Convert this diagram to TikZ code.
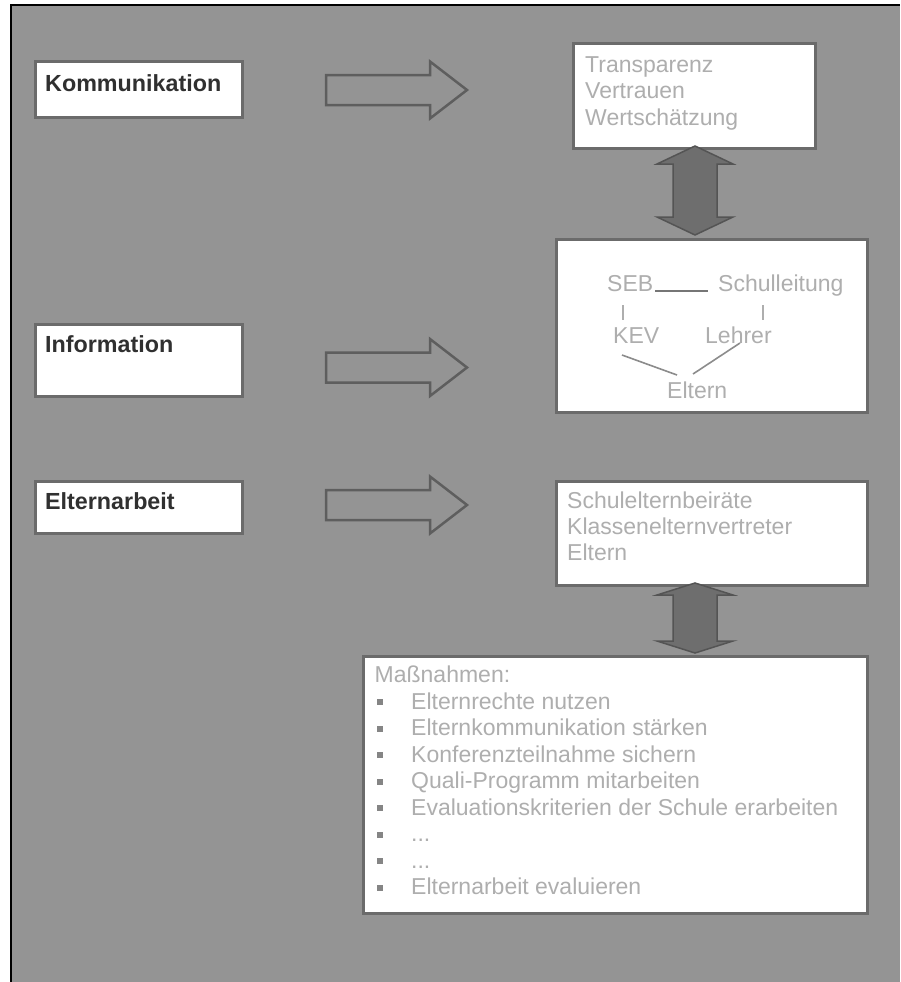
\documentclass[tikz,border=0pt]{standalone}
\usepackage{fontspec}
\setmainfont{Liberation Sans}
\definecolor{bggray}{HTML}{949494}
\definecolor{bordergray}{HTML}{6B6B6B}
\definecolor{arrowline}{HTML}{5E5E5E}
\definecolor{dblfill}{HTML}{6E6E6E}
\definecolor{dblline}{HTML}{545454}
\definecolor{darktext}{HTML}{303030}
\definecolor{lighttext}{HTML}{AEAEAE}
\definecolor{bulletgray}{HTML}{858585}
\definecolor{orggray}{HTML}{8C8C8C}
\definecolor{sebgray}{HTML}{767676}
\newcommand{\threedots}{...}
\tikzset{
  box/.style={draw=bordergray, line width=3pt, fill=white, inner sep=0pt, anchor=north west},
  lbl/.style={anchor=base west, inner sep=0pt, text=darktext, font=\bfseries\fontsize{23.3}{26}\selectfont},
  rtxt/.style={anchor=base west, inner sep=0pt, text=lighttext, font=\fontsize{23}{26}\selectfont},
  bulletbox/.style={fill=bulletgray, draw=none, minimum size=6pt, inner sep=0pt},
  hollowarrow/.pic={
    \draw[arrowline, line width=2.5pt, line join=miter, fill=bggray]
      (0,-15) -- (104,-15) -- (104,-28.5) -- (141,0) -- (104,28.5) -- (104,15) -- (0,15) -- cycle;
  }
}
\newcommand{\dblarr}[4]{% x, top tip y, bottom tip y, head length
  \filldraw[fill=dblfill, draw=dblline, line width=1.5pt, line join=miter]
    (#1,#2) -- (#1+38,#2+#4) -- (#1+22,#2+#4) -- (#1+22,#3-#4) -- (#1+38,#3-#4) -- (#1,#3)
    -- (#1-38,#3-#4) -- (#1-22,#3-#4) -- (#1-22,#2+#4) -- (#1-38,#2+#4) -- cycle;
}
\begin{document}
\begin{tikzpicture}[x=1pt,y=-1pt]
\useasboundingbox (0,0) rectangle (900,982);
\fill[white] (0,0) rectangle (900,982);
\fill[bggray] (11,5) rectangle (900,982);
\draw[black, line width=1.5pt] (11,982) -- (11,5) -- (900,5);

% left boxes
\node[box, minimum width=207pt, minimum height=55pt] (kom) at (33.5,60.5) {};
\node[lbl] (komt) at (45,92) {Kommunikation};
\node[box, minimum width=207pt, minimum height=72pt] (inf) at (33.5,322.5) {};
\node[lbl] (inft) at (45,352) {Information};
\node[box, minimum width=207pt, minimum height=52pt] (elt) at (33.5,479.5) {};
\node[lbl] (eltt) at (45,509) {Elternarbeit};

% hollow arrows
\pic at (326,90) {hollowarrow};
\pic at (326,367.5) {hollowarrow};
\pic at (326,505) {hollowarrow};

% right boxes
\node[box, minimum width=242pt, minimum height=104pt] (trans) at (571.5,42.5) {};
\node[rtxt] (t1) at (585,73) {Transparenz};
\node[rtxt] (t2) at (585,99) {Vertrauen};
\node[rtxt] (t3) at (585,125) {Wertschätzung};

\node[box, minimum width=311pt, minimum height=173pt] (org) at (554.5,237.5) {};
\node[rtxt] (seb) at (607,291) {SEB};
\node[rtxt] (sl) at (718,291) {Schulleitung};
\node[rtxt] (kev) at (613,343) {KEV};
\node[rtxt] (le) at (705,343) {Lehrer};
\node[rtxt] (el) at (667,398) {Eltern};
\draw[sebgray, line width=2.5pt] ([xshift=2pt]seb.base east) -- ([xshift=-10pt]sl.base west);
\draw[lighttext, line width=1.8pt] (623,305) -- (623,320);
\draw[lighttext, line width=1.8pt] (763,305) -- (763,320);
\coordinate (kevend) at (622,355);
\coordinate (elA) at (677,375);
\coordinate (elB) at (693,374);
\coordinate (leend) at (740,343);
\draw[orggray, line width=1.6pt] (kevend) -- (elA);
\draw[orggray, line width=1.6pt] (elB) -- (leend);

\node[box, minimum width=311pt, minimum height=104pt] (eltb) at (554.5,479.5) {};
\node[rtxt] (e1) at (567,508.5) {Schulelternbeiräte};
\node[rtxt] (e2) at (567,534) {Klassenelternvertreter};
\node[rtxt] (e3) at (567,560) {Eltern};

\node[box, minimum width=504pt, minimum height=257pt] (mass) at (361.5,654.5) {};
\node[rtxt] (m0) at (374.5,682) {Maßnahmen:};
\foreach \i/\t in {1/Elternrechte nutzen, 2/Elternkommunikation stärken, 3/Konferenzteilnahme sichern, 4/Quali-Programm mitarbeiten, 5/Evaluationskriterien der Schule erarbeiten, 6/\threedots, 7/\threedots, 8/Elternarbeit evaluieren}{
  \node[bulletbox] (b\i) at (380,702+26.5*\i-26.5) {};
  \node[rtxt] (m\i) at (411,709+26.5*\i-26.5) {\t};
}

% double arrows
\dblarr{695}{146}{235}{18}
\dblarr{695}{583}{653}{12}
\end{tikzpicture}
\end{document}
